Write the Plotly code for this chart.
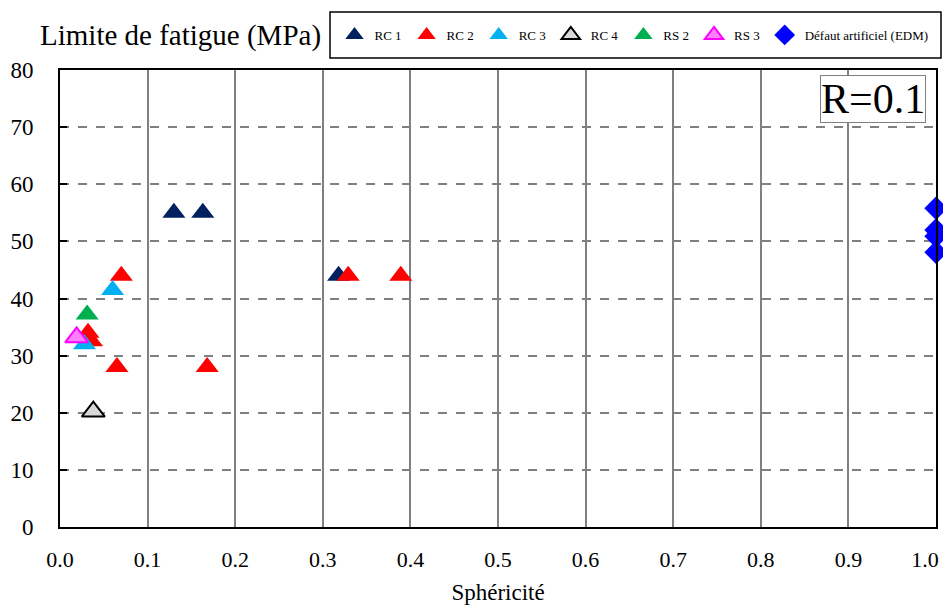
import plotly.graph_objects as go

# ---- data ----
rc1_x = [0.13, 0.163, 0.318]
rc1_y = [55, 55, 44]
rc2_x = [0.07, 0.032, 0.036, 0.065, 0.168, 0.329, 0.389]
rc2_y = [44, 34, 32.5, 28, 28, 44, 44]
rc3_x = [0.06, 0.028]
rc3_y = [41.5, 32]
rc4_x = [0.038]
rc4_y = [20.2]
rs2_x = [0.031]
rs2_y = [37.2]
rs3_x = [0.019]
rs3_y = [33.2]
edm_x = [1.0, 1.0, 1.0, 1.0]
edm_y = [55.8, 52.0, 50.9, 48.1]

x_ticks = [0.0, 0.1, 0.2, 0.3, 0.4, 0.5, 0.6, 0.7, 0.8, 0.9, 1.0]
x_ticklabels = ["0.0", "0.1", "0.2", "0.3", "0.4", "0.5", "0.6", "0.7", "0.8", "0.9",
                "1.0\u00a0\u00a0\u00a0\u00a0"]
y_ticks = [0, 10, 20, 30, 40, 50, 60, 70, 80]

FONT = "Liberation Serif"
OFF = 8  # page body margin offset

# plot area in page pixels
PL, PR, PT, PB = 60, 936, 70, 527
PW, PH = PR - PL, PB - PT
FIG_W, FIG_H = 951 - OFF, 613 - 2 * OFF

def px(xp):
    return (xp - PL) / PW

def py(yp):
    return (PB - yp) / PH

fig = go.Figure()

def tri(x, y, name, fill, line, lw=0):
    fig.add_trace(go.Scatter(
        x=x, y=y, mode="markers", name=name, cliponaxis=False,
        marker=dict(symbol="triangle-up", size=20, color=fill,
                    line=dict(color=line, width=lw))))

tri(rc1_x, rc1_y, "RC 1", "#002060", "#002060")
tri(rc2_x, rc2_y, "RC 2", "#FF0000", "#FF0000")
tri(rc3_x, rc3_y, "RC 3", "#00B0F0", "#00B0F0")
tri(rc4_x, rc4_y, "RC 4", "#D9D9D9", "#000000", 2)
tri(rs2_x, rs2_y, "RS 2", "#00B050", "#00B050")
tri(rs3_x, rs3_y, "RS 3", "#FF80FF", "#FF00FF", 2)
fig.add_trace(go.Scatter(
    x=edm_x, y=edm_y, mode="markers", name="Défaut artificiel (EDM)", cliponaxis=False,
    marker=dict(symbol="diamond", size=18, color="#0000FF")))

fig.update_layout(
    width=FIG_W, height=FIG_H,
    margin=dict(l=PL - OFF, r=(OFF + FIG_W) - PR, t=PT - OFF, b=(OFF + FIG_H) - PB,
                autoexpand=False),
    paper_bgcolor="white", plot_bgcolor="white",
    font=dict(family=FONT, color="black", size=23),
    showlegend=True,
    legend=dict(orientation="h", x=px(634), y=py(35),
                xanchor="center", yanchor="middle",
                font=dict(size=13, family=FONT), bgcolor="rgba(0,0,0,0)",
                borderwidth=0, itemwidth=30, tracegroupgap=0),
    xaxis=dict(range=[0, 1.0], tickvals=x_ticks, ticktext=x_ticklabels,
               showgrid=True, gridcolor="#808080", gridwidth=2,
               showline=True, linecolor="black", linewidth=2, mirror=True,
               ticks="inside", ticklen=5, tickcolor="#808080", tickwidth=2,
               zeroline=False, ticklabelstandoff=12, ticklabeloverflow="allow",
               title=dict(text="Sphéricité", font=dict(size=23), standoff=16),
               tickfont=dict(size=22)),
    yaxis=dict(range=[0, 80], tickvals=y_ticks,
               showgrid=True, gridcolor="#808080", gridwidth=2, griddash="dash",
               showline=True, linecolor="black", linewidth=2, mirror=True,
               ticks="inside", ticklen=7, tickcolor="black", tickwidth=2,
               zeroline=False, ticklabelstandoff=20, ticklabeloverflow="allow",
               tickfont=dict(size=23)),
    shapes=[
        dict(type="rect", xref="paper", yref="paper",
             x0=px(330), x1=px(941), y0=py(58), y1=py(12),
             line=dict(color="black", width=1.5), fillcolor="rgba(0,0,0,0)"),
    ],
    annotations=[
        dict(text="Limite de fatigue (MPa)", xref="paper", yref="paper",
             x=px(323), y=py(35), xanchor="right", yanchor="middle",
             showarrow=False, font=dict(size=29, family=FONT)),
        dict(text="R=0.1", xref="paper", yref="paper",
             x=px(926), y=py(75), xanchor="right", yanchor="top",
             showarrow=False, font=dict(size=42, family=FONT),
             bgcolor="white", bordercolor="#808080", borderwidth=1, borderpad=0),
    ],
)

fig.write_html("out.html")
